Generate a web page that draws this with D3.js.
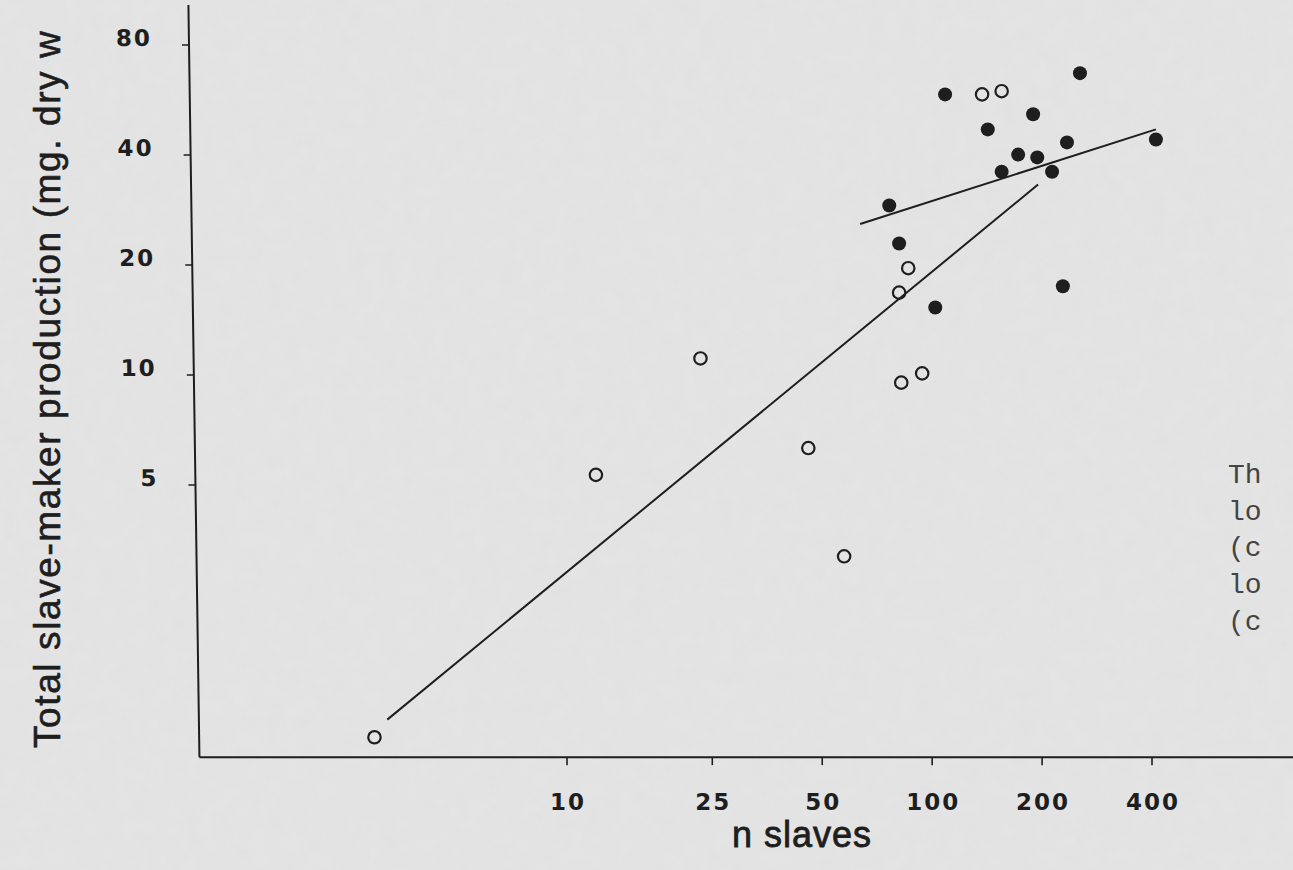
<!doctype html>

<meta charset="utf-8">
<title>Slave-maker production</title>

<style>
	html, body { margin: 0; padding: 0; background: #e4e4e4; }
	svg { display: block; }
</style>

<svg id="visual" width="1293" height="870"></svg>

<script src="https://cdn.jsdelivr.net/npm/d3@7/dist/d3.min.js"></script>

<script>

// (open_points) n slaves, production (mg)
var openSlaves = [2.97, 12.0, 23.2, 45.8, 57.4, 82.3, 93.9, 81.2, 86.0, 137, 155];
var openProduction = [1.02, 5.33, 11.1, 6.31, 3.19, 9.53, 10.1, 16.8, 19.6, 58.6, 59.8];

// (filled_points)
var filledSlaves = [108.5, 254, 142, 189, 76.3, 155, 172, 194, 213, 234, 410, 81.2, 102, 228];
var filledProduction = [58.6, 67.0, 47.0, 51.7, 29.1, 36.0, 40.1, 39.4, 36.0, 43.3, 44.1, 22.9, 15.3, 17.5];

// (fit_lines) end points in data units
var fitLines = [
	{x1: 3.22, y1: 1.14, x2: 195, y2: 33.2},
	{x1: 63.5, y1: 25.9, x2: 410, y2: 47.0}
];

// (ticks)
var xTicks = [10, 25, 50, 100, 200, 400];
var yTicks = [5, 10, 20, 40, 80];

// (titles) the y title runs off the top of the scanned page
var xTitle = "n slaves";
var yTitle = "Total slave-maker production (mg. dry w";

// (side_text) page text cut off at the right edge
var sideText = ["Th", "lo", "(c", "lo", "(c"];

// (svg)
var svg = d3.select("#visual");
var ink = "#1e1e1e";

// (paper) faint scan grain
var defs = svg.append("defs");
var grain = defs.append("filter").attr("id", "grain");
grain.append("feTurbulence")
	.attr("type", "fractalNoise")
	.attr("baseFrequency", 0.06)
	.attr("numOctaves", 3)
	.attr("seed", 4);
grain.append("feColorMatrix")
	.attr("values", "0 0 0 0 0.5  0 0 0 0 0.5  0 0 0 0 0.5  0 0 0 0.09 0");

svg.append("rect")
	.attr("width", 1293)
	.attr("height", 870)
	.attr("fill", "#e5e5e5");
svg.append("rect")
	.attr("width", 1293)
	.attr("height", 870)
	.attr("filter", "url(#grain)");

// (scales)
var x = d3.scaleLog().domain([10, 400]).range([567, 1152]);
var y = d3.scaleLog().domain([5, 80]).range([485, 45]);
var xExtent = [0.985, 1050];
var yExtent = [0.9, 103];

var tickFont = "DejaVu Sans, sans-serif";

// (x_axis)
var xAxisG = svg.append("g").attr("transform", "translate(0," + y(yExtent[0]) + ")");

xAxisG.append("line")
	.attr("x1", x(xExtent[0]))
	.attr("x2", x(xExtent[1]))
	.attr("stroke", ink)
	.attr("stroke-width", 2);

xAxisG.selectAll(".tick")
	.data(xTicks)
	.enter()
	.append("line")
	.attr("x1", function(d) { return x(d); })
	.attr("x2", function(d) { return x(d); })
	.attr("y1", 0)
	.attr("y2", 8)
	.attr("stroke", ink)
	.attr("stroke-width", 1.6);

xAxisG.selectAll("text")
	.data(xTicks)
	.enter()
	.append("text")
	.attr("x", function(d) { return x(d) + 1; })
	.attr("y", 53)
	.attr("text-anchor", "middle")
	.attr("font-family", tickFont)
	.attr("font-weight", "bold")
	.attr("font-size", "23px")
	.attr("letter-spacing", "2px")
	.attr("fill", ink)
	.text(function(d) { return d; });

// (y_axis) the scan is a little skewed, so the axis leans
var yBase = y(yExtent[0]);
var yAxisG = svg.append("g")
	.attr("transform", "translate(" + x(xExtent[0]) + "," + yBase + ") skewX(0.84) translate(0," + (-yBase) + ")");

yAxisG.append("line")
	.attr("y1", y(yExtent[0]))
	.attr("y2", y(yExtent[1]))
	.attr("stroke", ink)
	.attr("stroke-width", 2);

yAxisG.selectAll(".tick")
	.data(yTicks)
	.enter()
	.append("line")
	.attr("x1", -7)
	.attr("x2", 0)
	.attr("y1", function(d) { return y(d); })
	.attr("y2", function(d) { return y(d); })
	.attr("stroke", ink)
	.attr("stroke-width", 1.6);

yAxisG.selectAll("text")
	.data(yTicks)
	.enter()
	.append("text")
	.attr("x", -37)
	.attr("y", function(d) { return y(d) + 1; })
	.attr("text-anchor", "end")
	.attr("font-family", tickFont)
	.attr("font-weight", "bold")
	.attr("font-size", "23px")
	.attr("letter-spacing", "2px")
	.attr("fill", ink)
	.text(function(d) { return d; });

// (axis_titles)
svg.append("text")
	.attr("x", 802)
	.attr("y", 847)
	.attr("text-anchor", "middle")
	.attr("font-family", "Liberation Sans, Arial, sans-serif")
	.attr("font-size", "36px")
	.attr("letter-spacing", "1px")
	.attr("fill", ink)
	.attr("stroke", ink)
	.attr("stroke-width", 0.8)
	.text(xTitle);

svg.append("text")
	.attr("transform", "translate(60,748) rotate(-90)")
	.attr("font-family", "Liberation Sans, Arial, sans-serif")
	.attr("font-size", "37px")
	.attr("letter-spacing", "1.6px")
	.attr("fill", ink)
	.attr("stroke", ink)
	.attr("stroke-width", 0.6)
	.text(yTitle);

// (fit_lines)
svg.selectAll(".fit")
	.data(fitLines)
	.enter()
	.append("line")
	.attr("class", "fit")
	.attr("x1", function(d) { return x(d.x1); })
	.attr("y1", function(d) { return y(d.y1); })
	.attr("x2", function(d) { return x(d.x2); })
	.attr("y2", function(d) { return y(d.y2); })
	.attr("stroke", ink)
	.attr("stroke-width", 2);

// (open_circles)
svg.selectAll(".open")
	.data(d3.zip(openSlaves, openProduction))
	.enter()
	.append("circle")
	.attr("class", "open")
	.attr("cx", function(d) { return x(d[0]); })
	.attr("cy", function(d) { return y(d[1]); })
	.attr("r", 6.2)
	.attr("fill", "none")
	.attr("stroke", ink)
	.attr("stroke-width", 2.2);

// (filled_circles)
svg.selectAll(".filled")
	.data(d3.zip(filledSlaves, filledProduction))
	.enter()
	.append("circle")
	.attr("class", "filled")
	.attr("cx", function(d) { return x(d[0]); })
	.attr("cy", function(d) { return y(d[1]); })
	.attr("r", 7)
	.attr("fill", ink);

// (side_text)
svg.selectAll(".side")
	.data(sideText)
	.enter()
	.append("text")
	.attr("class", "side")
	.attr("x", 1228)
	.attr("y", function(d, i) { return 483 + i * 36.7; })
	.attr("font-family", "Liberation Mono, Courier New, monospace")
	.attr("font-size", "28px")
	.attr("fill", "#444")
	.text(function(d) { return d; });

</script>
